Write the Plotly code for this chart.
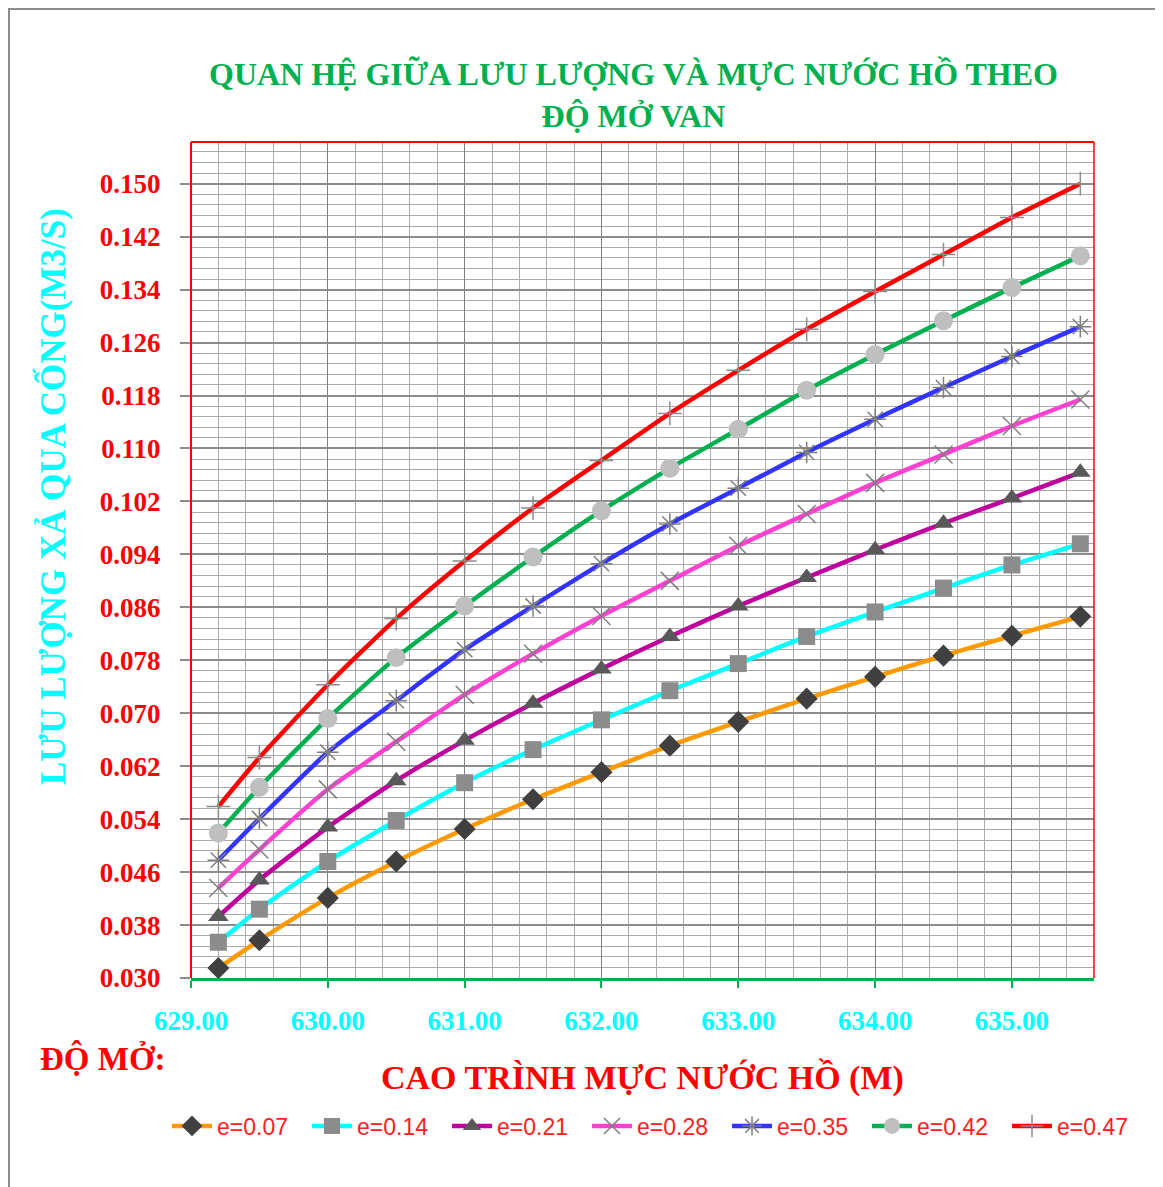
import plotly.graph_objects as go

# ---- data ----
muc_nuoc = [629.2, 629.5, 630.0, 630.5, 631.0, 631.5, 632.0, 632.5, 633.0, 633.5, 634.0, 634.5, 635.0, 635.5]

q_e007 = [0.0315, 0.0357, 0.0421, 0.0476, 0.0525, 0.0570, 0.0611, 0.0651, 0.0687, 0.0722, 0.0755, 0.0787, 0.0817, 0.0846]
q_e014 = [0.0354, 0.0404, 0.0476, 0.0538, 0.0595, 0.0645, 0.0690, 0.0734, 0.0775, 0.0816, 0.0853, 0.0889, 0.0924, 0.0956]
q_e021 = [0.0393, 0.0448, 0.0528, 0.0598, 0.0659, 0.0715, 0.0767, 0.0816, 0.0862, 0.0905, 0.0947, 0.0987, 0.1025, 0.1064]
q_e028 = [0.0436, 0.0494, 0.0585, 0.0657, 0.0728, 0.0790, 0.0847, 0.0900, 0.0953, 0.1001, 0.1048, 0.1091, 0.1134, 0.1174]
q_e035 = [0.0478, 0.0541, 0.0641, 0.0719, 0.0796, 0.0862, 0.0926, 0.0986, 0.1040, 0.1094, 0.1144, 0.1192, 0.1239, 0.1284]
q_e042 = [0.0519, 0.0588, 0.0692, 0.0784, 0.0862, 0.0936, 0.1006, 0.1070, 0.1129, 0.1188, 0.1242, 0.1293, 0.1343, 0.1391]
q_e047 = [0.0559, 0.0633, 0.0743, 0.0843, 0.0930, 0.1010, 0.1082, 0.1153, 0.1218, 0.1280, 0.1337, 0.1393, 0.1449, 0.1500]

series_names = ["e=0.07", "e=0.14", "e=0.21", "e=0.28", "e=0.35", "e=0.42", "e=0.47"]
series_values = [q_e007, q_e014, q_e021, q_e028, q_e035, q_e042, q_e047]

x_tick_vals = [629.0, 630.0, 631.0, 632.0, 633.0, 634.0, 635.0]
x_tick_text = ["629.00", "630.00", "631.00", "632.00", "633.00", "634.00", "635.00"]
y_tick_vals = [0.030, 0.038, 0.046, 0.054, 0.062, 0.070, 0.078, 0.086, 0.094, 0.102,
               0.110, 0.118, 0.126, 0.134, 0.142, 0.150]
y_tick_text = ["%.3f" % v for v in y_tick_vals]

# ---- styles ----
line_colors = ["#FF9900", "#00FFFF", "#C0009C", "#FF40D0", "#3333FF", "#00B050", "#FF0000"]
marker_styles = [
    dict(symbol="diamond", size=17, color="#404040"),
    dict(symbol="square", size=17, color="#8C8C8C"),
    dict(symbol="triangle-up", size=18, color="#595959"),
    dict(symbol="x-thin-open", size=18, color="#7F7F7F", line=dict(width=1.5, color="#7F7F7F")),
    dict(symbol="asterisk-open", size=18, color="#7F7F7F", line=dict(width=1.5, color="#7F7F7F")),
    dict(symbol="circle", size=19, color="#BFBFBF"),
    dict(symbol="cross-thin-open", size=17, color="#8C8C8C", line=dict(width=1.5, color="#8C8C8C")),
]

fig = go.Figure()
for name, vals, col, mk in zip(series_names, series_values, line_colors, marker_styles):
    fig.add_trace(go.Scatter(
        x=muc_nuoc, y=vals, name=name, mode="lines+markers",
        line=dict(color=col, width=4.5, shape="spline", smoothing=0.6),
        marker=mk,
    ))

serif = "Liberation Serif"
OFF = 8  # page offset of the figure div
W, H = 1163 - OFF, 1187 - OFF
PL, PR, PT, PB = 191, 1094, 142, 978  # plot area in page pixels
L, T = PL - OFF, PT - OFF
R = W - (PR - OFF)
B = H - (PB - OFF)
pw, ph = PR - PL, PB - PT


def px(x):
    return (x - PL) / pw


def py(y):
    return (PB - y) / ph


fig.update_layout(
    width=W, height=H,
    margin=dict(l=L, r=R, t=T, b=B),
    paper_bgcolor="white", plot_bgcolor="white",
    showlegend=True,
    legend=dict(orientation="h", x=px(167), y=py(1126), xanchor="left", yanchor="middle",
                font=dict(family="Liberation Sans", size=23, color="#FF2020"),
                entrywidth=85, entrywidthmode="pixels", itemwidth=40,
                bgcolor="rgba(0,0,0,0)", tracegroupgap=0),
    xaxis=dict(range=[629.0, 635.6], tickvals=x_tick_vals,
               ticktext=["<b>%s</b>" % t for t in x_tick_text],
               tickfont=dict(family=serif, size=27, color="#00FFFF"),
               showgrid=True, gridcolor="#7F7F7F", gridwidth=1,
               minor=dict(dtick=0.2, tick0=629.0, showgrid=True, gridcolor="#ABABAB", gridwidth=1),
               showline=True, linecolor="#00B050", linewidth=3,
               ticks="outside", ticklen=7, tickcolor="#00B050", tickwidth=2,
               zeroline=False, ticklabelstandoff=10),
    yaxis=dict(range=[0.030, 0.1563], tickvals=y_tick_vals,
               ticktext=["<b>%s</b>" % t for t in y_tick_text],
               tickfont=dict(family=serif, size=27, color="#FF0000"),
               showgrid=True, gridcolor="#8C8C8C", gridwidth=1.5,
               minor=dict(dtick=0.0016, tick0=0.030, showgrid=True, gridcolor="#ABABAB", gridwidth=1),
               ticks="outside", ticklen=10, tickcolor="#8C8C8C", tickwidth=1.5,
               zeroline=False, showline=False, ticklabelstandoff=14),
    shapes=[
        # red plot-area border (left, top, right)
        dict(type="line", xref="paper", yref="paper", x0=0, x1=0, y0=0, y1=1,
             line=dict(color="#FF0000", width=2)),
        dict(type="line", xref="paper", yref="paper", x0=0, x1=1, y0=1, y1=1,
             line=dict(color="#FF0000", width=2)),
        dict(type="line", xref="paper", yref="paper", x0=1, x1=1, y0=0, y1=1,
             line=dict(color="#FF0000", width=1.5)),
        # outer chart frame
        dict(type="rect", xref="paper", yref="paper",
             x0=px(9), x1=px(1161), y0=py(1200), y1=py(9),
             line=dict(color="#8C8C8C", width=2), layer="below"),
    ],
    annotations=[
        dict(text="<b>QUAN HỆ GIỮA LƯU LƯỢNG VÀ MỰC NƯỚC HỒ THEO<br>ĐỘ MỞ VAN</b>",
             xref="paper", yref="paper", x=px(633), y=py(95), showarrow=False,
             xanchor="center", yanchor="middle",
             font=dict(family=serif, size=32, color="#00B050"), align="center"),
        dict(text="<b>LƯU LƯỢNG XẢ QUA CỐNG(M3/S)</b>", textangle=-90,
             xref="paper", yref="paper", x=px(52), y=py(497), showarrow=False,
             xanchor="center", yanchor="middle",
             font=dict(family=serif, size=35, color="#00FFFF")),
        dict(text="<b>CAO TRÌNH MỰC NƯỚC HỒ (M)</b>",
             xref="paper", yref="paper", x=px(642), y=py(1077), showarrow=False,
             xanchor="center", yanchor="middle",
             font=dict(family=serif, size=34, color="#FF0000")),
        dict(text="<b>ĐỘ MỞ:</b>",
             xref="paper", yref="paper", x=px(103), y=py(1058), showarrow=False,
             xanchor="center", yanchor="middle",
             font=dict(family=serif, size=33, color="#FF0000")),
    ],
)

fig.write_html("out.html")
